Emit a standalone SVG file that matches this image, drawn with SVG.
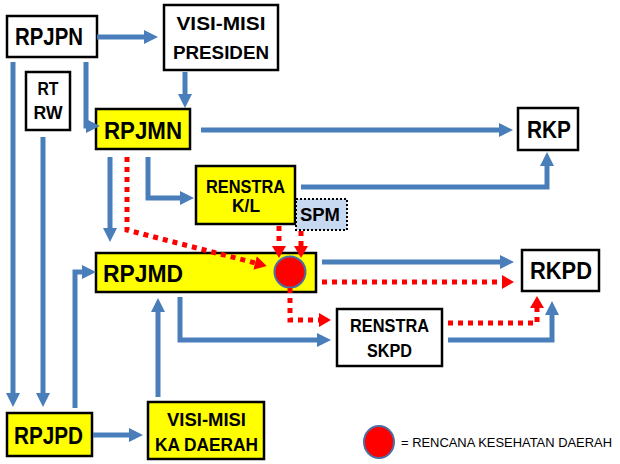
<svg xmlns="http://www.w3.org/2000/svg" width="620" height="464" viewBox="0 0 620 464">
<defs>
<marker id="ab" markerUnits="userSpaceOnUse" markerWidth="16" markerHeight="16" refX="4" refY="7" orient="auto"><path d="M0,0 L14,7 L0,14 z" fill="#4a7ebb"/></marker>
<marker id="ar" markerUnits="userSpaceOnUse" markerWidth="16" markerHeight="16" refX="2" refY="7" orient="auto"><path d="M0,0 L12,7 L0,14 z" fill="#ff0000"/></marker>
<style>
.box{fill:#ffffff;stroke:#000000;stroke-width:2.5}
.yel{fill:#ffff00;stroke:#000000;stroke-width:2.5}
.spm{fill:#c6d9f1;stroke:#000000;stroke-width:2;stroke-dasharray:2 2}
.b{fill:none;stroke:#4a7ebb;stroke-width:5;marker-end:url(#ab)}
.r{fill:none;stroke:#ff0000;stroke-width:5;stroke-dasharray:5 5;marker-end:url(#ar)}
.dot{fill:#ff0000;stroke:#4a6fa5;stroke-width:2}
text{font-family:"Liberation Sans",Arial,sans-serif;font-weight:bold;fill:#000000;text-anchor:middle}
.big{font-size:24px}
.mid{font-size:18px}
.leg{font-size:13px;font-weight:normal;text-anchor:start}
</style>
</defs>
<g id="rpjpn"><rect class="box" x="7" y="16" width="90" height="41"/><text class="big" x="49" y="45" textLength="68" lengthAdjust="spacingAndGlyphs">RPJPN</text></g>
<g id="visi-presiden"><rect class="box" x="164" y="5" width="114" height="65"/><text class="mid" x="221" y="30" textLength="89" lengthAdjust="spacingAndGlyphs">VISI-MISI</text><text class="mid" x="221" y="59" textLength="96" lengthAdjust="spacingAndGlyphs">PRESIDEN</text></g>
<g id="rtrw"><rect class="box" x="26" y="72" width="44" height="58"/><text class="mid" x="48" y="95" textLength="21" lengthAdjust="spacingAndGlyphs">RT</text><text class="mid" x="48" y="119" textLength="29" lengthAdjust="spacingAndGlyphs">RW</text></g>
<g id="rpjmn"><rect class="yel" x="96" y="109" width="94" height="40"/><text class="big" x="143" y="139" textLength="78" lengthAdjust="spacingAndGlyphs">RPJMN</text></g>
<g id="rkp"><rect class="box" x="518" y="108" width="60" height="42"/><text class="big" x="549" y="138" textLength="44" lengthAdjust="spacingAndGlyphs">RKP</text></g>
<g id="renstra-kl"><rect class="yel" x="196" y="166" width="99" height="58"/><text class="mid" x="245.5" y="193" textLength="79" lengthAdjust="spacingAndGlyphs">RENSTRA</text><text class="mid" x="246" y="212" textLength="28" lengthAdjust="spacingAndGlyphs">K/L</text></g>
<g id="spm"><rect class="spm" x="296" y="199" width="51" height="31"/><text class="mid" x="320" y="221" textLength="40" lengthAdjust="spacingAndGlyphs">SPM</text></g>
<g id="rpjmd"><rect class="yel" x="96" y="253" width="220" height="39"/><text class="big" x="143" y="282" textLength="80" lengthAdjust="spacingAndGlyphs">RPJMD</text><circle class="dot" cx="290" cy="272" r="15.5"/></g>
<g id="rkpd"><rect class="box" x="522" y="250" width="77" height="41"/><text class="big" x="561" y="279" textLength="62" lengthAdjust="spacingAndGlyphs">RKPD</text></g>
<g id="renstra-skpd"><rect class="box" x="337" y="309" width="105" height="57"/><text class="mid" x="389.5" y="332" textLength="79" lengthAdjust="spacingAndGlyphs">RENSTRA</text><text class="mid" x="389.5" y="357" textLength="45" lengthAdjust="spacingAndGlyphs">SKPD</text></g>
<g id="rpjpd"><rect class="yel" x="7" y="413" width="85" height="43"/><text class="big" x="48.5" y="444" textLength="69" lengthAdjust="spacingAndGlyphs">RPJPD</text></g>
<g id="visi-kadaerah"><rect class="yel" x="148" y="402" width="116" height="57"/><text class="mid" x="206.5" y="426" textLength="79" lengthAdjust="spacingAndGlyphs">VISI-MISI</text><text class="mid" x="206.5" y="451" textLength="103" lengthAdjust="spacingAndGlyphs">KA DAERAH</text></g>
<g id="legend"><ellipse class="dot" cx="379" cy="442" rx="15" ry="16"/><text class="leg" x="401" y="447" textLength="211" lengthAdjust="spacingAndGlyphs">= RENCANA KESEHATAN DAERAH</text></g>
<g id="connectors">
<path class="b" d="M97,37 H148"/>
<path class="b" d="M185,72 V98"/>
<path class="b" d="M86,62 V126 H90"/>
<path class="b" d="M13,62 V397"/>
<path class="b" d="M43,137 V397"/>
<path class="b" d="M75,408 V272 H86"/>
<path class="b" d="M93,435 H133"/>
<path class="b" d="M158,397 V308"/>
<path class="b" d="M110,157 V232"/>
<path class="b" d="M148,157 V198 H184"/>
<path class="b" d="M201,130 H503"/>
<path class="b" d="M301,187 H547 V162"/>
<path class="b" d="M322,262 H504"/>
<path class="b" d="M180,297 V340 H321"/>
<path class="b" d="M448,340 H552 V311"/>
<path class="r" d="M127,157 V230 L257,263.5"/>
<path class="r" d="M279,226 V248"/>
<path class="r" d="M301,231 V248"/>
<path class="r" d="M322,282 H504"/>
<path class="r" d="M290,288 V320 H321"/>
<path class="r" d="M448,323 H537 V306"/>
</g>
</svg>
